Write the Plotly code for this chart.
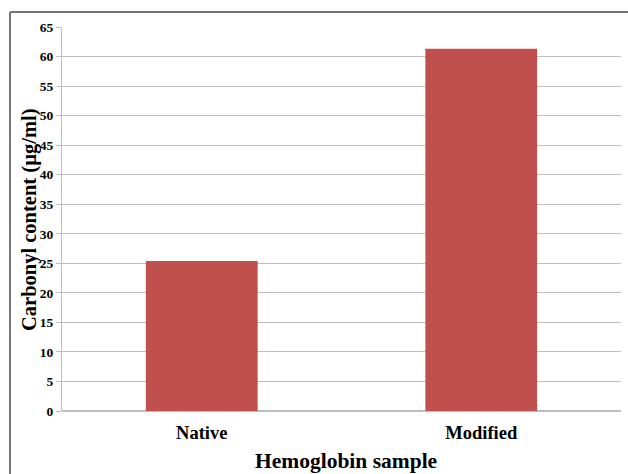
import plotly.graph_objects as go

categories = ["Native", "Modified"]
values = [25.4, 61.3]
y_ticks = list(range(0, 66, 5))

L, R, T, B = 62, 7, 27, 63
W, H = 628, 474
pw = W - L - R
ph = H - T - B

fig = go.Figure(go.Bar(x=categories, y=values, marker=dict(color="#C0504D", line=dict(width=0)), width=0.4))

fig.update_layout(
    width=W, height=H,
    margin=dict(l=L, r=R, t=T, b=B),
    paper_bgcolor="white", plot_bgcolor="white",
    showlegend=False,
    font=dict(family="Liberation Serif", color="black"),
    xaxis=dict(
        tickfont=dict(size=18.5, family="Liberation Serif", color="black"),
        showline=False, ticks="", showgrid=False,
        tickvals=categories, ticktext=["<b>%s</b>" % c for c in categories],
        ticklabelstandoff=8,
    ),
    yaxis=dict(
        range=[0, 65], tickvals=y_ticks, ticktext=["<b>%d</b>" % v for v in y_ticks],
        tickfont=dict(size=13.5, family="Liberation Serif", color="black"),
        showgrid=True, gridcolor="#BEBEBE", gridwidth=1,
        showline=True, linecolor="#BEBEBE", linewidth=1,
        ticks="outside", ticklen=5, tickcolor="#BEBEBE",
        zeroline=True, zerolinecolor="#BEBEBE",
    ),
    annotations=[
        dict(text="<b>Hemoglobin sample</b>", xref="paper", yref="paper",
             x=(346 - L) / pw, y=(H - B - 461) / ph, xanchor="center", yanchor="middle",
             showarrow=False, font=dict(size=21.5, family="Liberation Serif", color="black")),
        dict(text="<b>Carbonyl content (µg/ml)</b>", xref="paper", yref="paper",
             x=(29 - L) / pw, y=(H - B - 220) / ph, xanchor="center", yanchor="middle",
             textangle=-90, showarrow=False,
             font=dict(size=20.5, family="Liberation Serif", color="black")),
    ],
    shapes=[
        dict(type="line", xref="paper", yref="paper",
             x0=(10 - L) / pw, x1=(W + 10 - L) / pw,
             y0=(H - B - 12) / ph, y1=(H - B - 12) / ph,
             line=dict(color="#444444", width=1.5)),
        dict(type="line", xref="paper", yref="paper",
             x0=(10 - L) / pw, x1=(10 - L) / pw,
             y0=(H - B - 12) / ph, y1=-(B + 20) / ph,
             line=dict(color="#777777", width=2)),
    ],
)

fig.write_html("out.html", config={"displayModeBar": False},
               post_script="document.body.style.margin='0';document.body.style.overflow='hidden';")
